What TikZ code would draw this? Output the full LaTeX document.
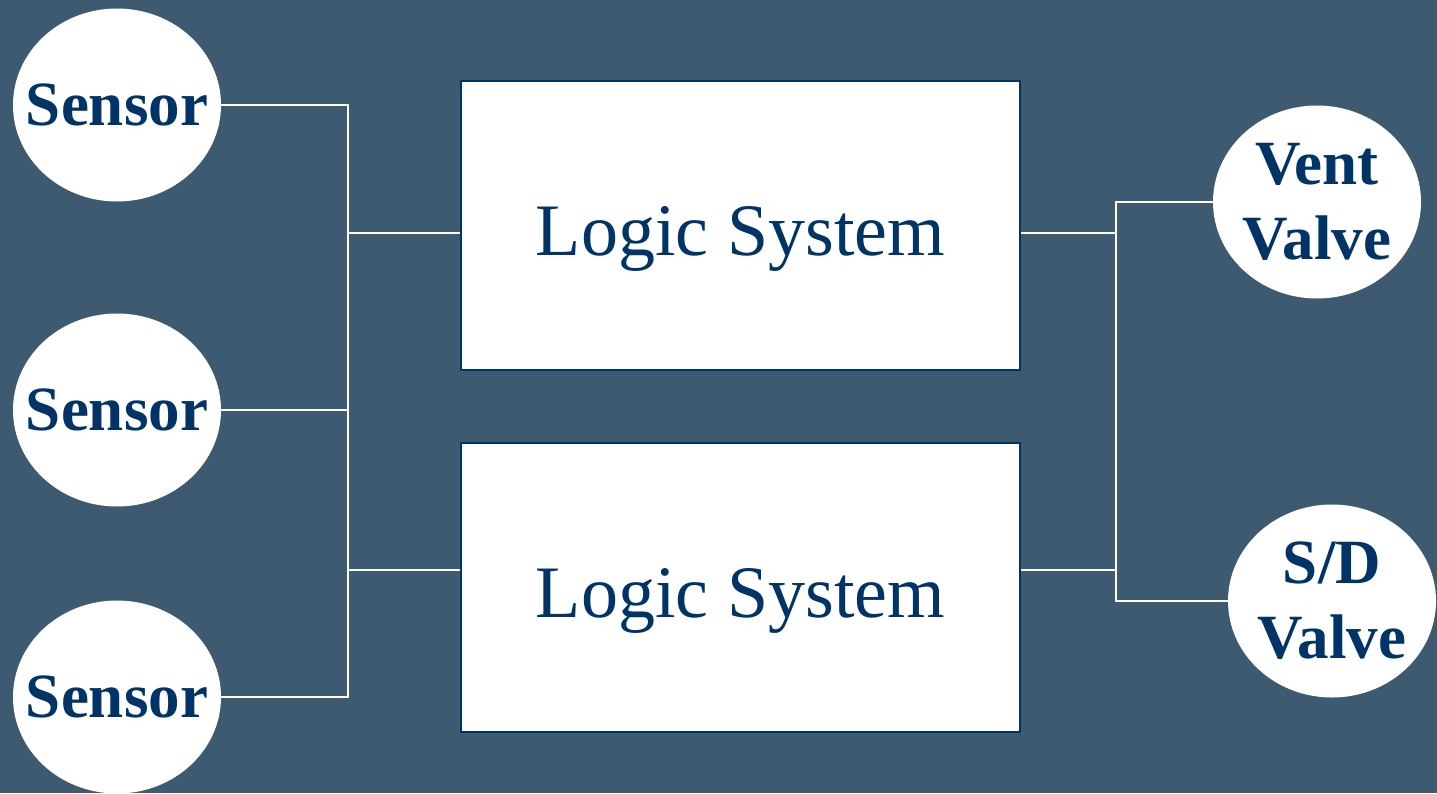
\documentclass[tikz,border=0pt]{standalone}
\usepackage{fontspec}
\setmainfont{Liberation Serif}
\usetikzlibrary{shapes.geometric}
\definecolor{bgblue}{HTML}{3D5A70}
\definecolor{navy}{HTML}{003366}
\newcommand{\lowtext}[1]{\smash{\raisebox{-30pt}{#1}}}
\tikzset{
  disc/.style={ellipse, fill=white, inner sep=-80pt, text=navy, align=center,
    minimum width=208pt, minimum height=193pt,
    font=\bfseries\fontsize{63}{75}\selectfont},
  logicbox/.style={rectangle, fill=white, draw=navy, line width=2pt, inner sep=0pt,
    minimum width=559pt, minimum height=289pt, text=navy,
    font=\fontsize{74}{80}\selectfont},
  wire/.style={draw=white, line width=2pt}
}
\begin{document}
\begin{tikzpicture}[x=1pt, y=-1pt]
  \useasboundingbox (0,0) rectangle (1437,793);
  \clip (0,0) rectangle (1437,793);
  \fill[bgblue] (0,0) rectangle (1437,793);

  % bus lines
  \coordinate (lbus) at (348,0);
  \coordinate (rbus) at (1116,0);

  % sensors
  \node[disc] (s1) at (117,105) {Sensor};
  \node[disc] (s2) at (117,410) {Sensor};
  \node[disc] (s3) at (117,697) {Sensor};

  % logic systems
  \node[logicbox] (ls1) at (740.5,225.5) {\lowtext{Logic System}};
  \node[logicbox] (ls2) at (740.5,587) {\lowtext{Logic System}};

  % valves
  \node[disc] (vv) at (1317,202) {Vent\\Valve};
  \node[disc] (sd) at (1332,601) {S/D\\Valve};

  % ports on the logic boxes
  \coordinate (ls1in)  at (ls1.west |- 0,233);
  \coordinate (ls1out) at (ls1.east |- 0,233);
  \coordinate (ls2in)  at (ls2.west |- 0,570);
  \coordinate (ls2out) at (ls2.east |- 0,570);

  % sensor side
  \draw[wire] (s1.east) -| (lbus |- s3.east) -- (s3.east);
  \draw[wire] (s2.east) -- (s2.east -| lbus);
  \draw[wire] (ls1in) -- (ls1in -| lbus);
  \draw[wire] (ls2in) -- (ls2in -| lbus);

  % valve side
  \draw[wire] (vv.west) -| (rbus |- sd.west) -- (sd.west);
  \draw[wire] (ls1out) -- (ls1out -| rbus);
  \draw[wire] (ls2out) -- (ls2out -| rbus);
\end{tikzpicture}
\end{document}
